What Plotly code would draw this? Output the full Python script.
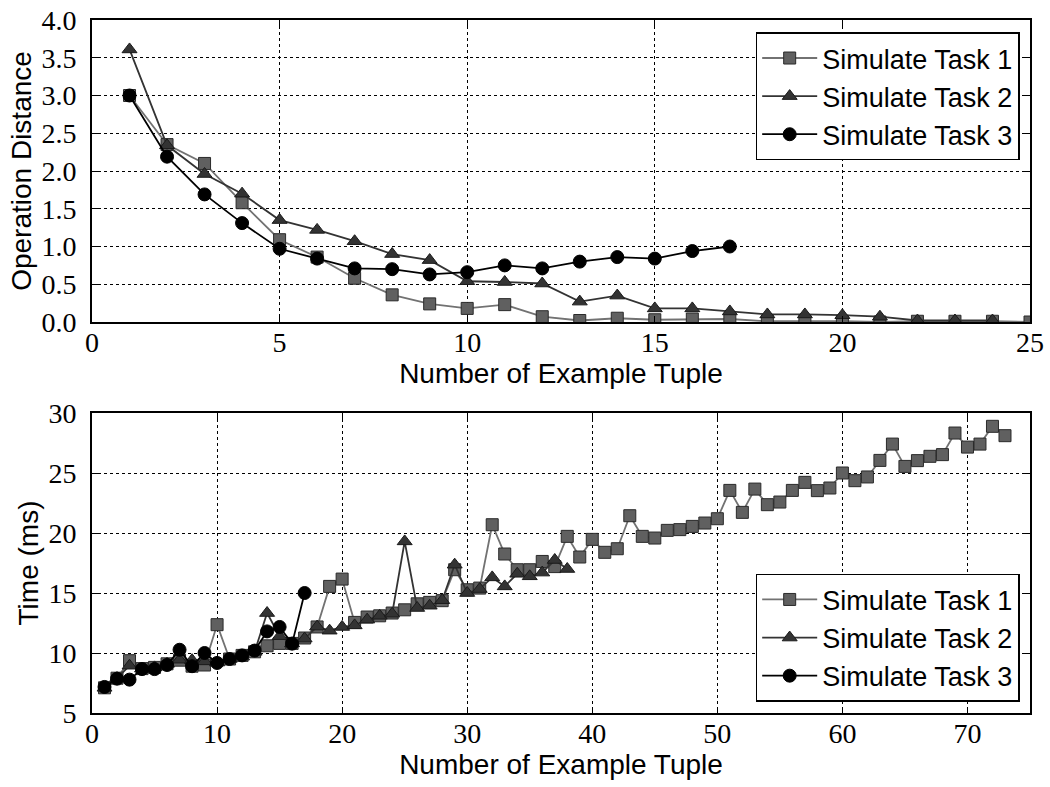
import plotly.graph_objects as go
from plotly.subplots import make_subplots

# ---------------- data: top panel (Operation Distance) ----------------
top_x1 = list(range(1, 26))
top_task1 = [3.0, 2.35, 2.10, 1.58, 1.09, 0.86, 0.58, 0.36, 0.24, 0.18, 0.23, 0.07,
             0.02, 0.05, 0.03, 0.04, 0.04, 0.01, 0.01, 0.01, 0.0, 0.01, 0.01, 0.01, 0.0]
top_x2 = list(range(1, 25))
top_task2 = [3.61, 2.34, 1.96, 1.70, 1.35, 1.22, 1.07, 0.90, 0.82, 0.54, 0.53, 0.51,
             0.27, 0.35, 0.18, 0.18, 0.14, 0.10, 0.10, 0.09, 0.07, 0.02, 0.02, 0.02]
top_x3 = list(range(1, 18))
top_task3 = [3.0, 2.19, 1.69, 1.31, 0.97, 0.84, 0.71, 0.70, 0.63, 0.66, 0.75, 0.71,
             0.80, 0.86, 0.84, 0.94, 1.0]

# ---------------- data: bottom panel (Time) ----------------
bot_x1 = list(range(1, 74))
bot_task1 = [7.1, 7.9, 9.36, 8.7, 8.8, 9.1, 9.4, 8.9, 9.0, 12.36,
             9.5, 9.8, 10.1, 10.6, 10.8, 10.8, 11.25, 12.17, 15.55, 16.16,
             12.55, 13.0, 13.1, 13.33, 13.6, 14.1, 14.22, 14.36, 16.94, 15.27,
             15.41, 20.69, 18.25, 16.94, 16.94, 17.63, 17.2, 19.72, 18.0, 19.47,
             18.39, 18.69, 21.44, 19.72, 19.58, 20.22, 20.28, 20.55, 20.83, 21.19,
             23.55, 21.72, 23.66, 22.36, 22.58, 23.55, 24.22, 23.53, 23.75, 25.0,
             24.36, 24.67, 26.05, 27.41, 25.55, 26.03, 26.39, 26.53, 28.33, 27.16,
             27.41, 28.89, 28.11]
bot_x2 = list(range(1, 39))
bot_task2 = [7.1, 7.9, 8.94, 8.7, 8.8, 9.1, 9.44, 9.4, 9.3, 9.2,
             9.5, 9.7, 10.1, 13.33, 11.4, 10.8, 11.2, 12.2, 11.86, 12.17,
             12.3, 12.78, 13.1, 13.27, 19.3, 13.75, 13.94, 14.4, 17.36, 15.0,
             15.33, 16.3, 15.55, 16.6, 16.39, 16.7, 17.75, 17.0]
bot_x3 = list(range(1, 18))
bot_task3 = [7.17, 7.86, 7.78, 8.66, 8.66, 9.0, 10.27, 8.9, 10.0, 9.17,
             9.5, 9.8, 10.2, 11.8, 12.17, 10.78, 15.0]

names = ["Simulate Task 1", "Simulate Task 2", "Simulate Task 3"]

styles = [
    dict(line=dict(color="#727272", width=1.8),
         marker=dict(symbol="square", size=12, color="#606060",
                     line=dict(color="#2a2a2a", width=1))),
    dict(line=dict(color="#333333", width=1.8),
         marker=dict(symbol="triangle-up", size=13, color="#333333",
                     line=dict(color="#1a1a1a", width=1))),
    dict(line=dict(color="#000000", width=1.8),
         marker=dict(symbol="circle", size=13, color="#000000",
                     line=dict(color="#000000", width=1))),
]

fig = make_subplots(rows=2, cols=1, vertical_spacing=0.0)

top_data = [(top_x1, top_task1), (top_x2, top_task2), (top_x3, top_task3)]
bot_data = [(bot_x1, bot_task1), (bot_x2, bot_task2), (bot_x3, bot_task3)]

for (xs, ys), nm, st in zip(top_data, names, styles):
    fig.add_trace(go.Scatter(x=xs, y=ys, mode="lines+markers", name=nm,
                             legend="legend", **st), row=1, col=1)
for (xs, ys), nm, st in zip(bot_data, names, styles):
    fig.add_trace(go.Scatter(x=xs, y=ys, mode="lines+markers", name=nm,
                             legend="legend2", **st), row=2, col=1)

tick_font = dict(family="Liberation Serif, DejaVu Serif, serif", size=28, color="black")
title_font = dict(family="Liberation Sans, Arial, sans-serif", size=28, color="black")
legend_font = dict(family="Liberation Sans, Arial, sans-serif", size=27, color="black")

axis_common = dict(showline=True, linecolor="black", linewidth=2, mirror="allticks",
                   ticks="inside", ticklen=6, tickwidth=1, tickcolor="black",
                   showgrid=True, gridcolor="black", gridwidth=1, griddash="dot",
                   zeroline=False, tickfont=tick_font, title_font=title_font,
                   automargin=False)

fig.update_xaxes(ticklabelstandoff=-6, **axis_common)
fig.update_yaxes(ticklabelstandoff=8, **axis_common)

fig.update_layout(
    width=1050, height=787,
    margin=dict(l=92, r=20, t=20, b=74),
    paper_bgcolor="white", plot_bgcolor="white",
    xaxis=dict(domain=[0, 1], range=[0, 25], tickvals=[0, 5, 10, 15, 20, 25],
               title=dict(text="Number of Example Tuple", standoff=0)),
    yaxis=dict(domain=[0.5642, 1.0], range=[0, 4.0],
               tickvals=[0, 0.5, 1.0, 1.5, 2.0, 2.5, 3.0, 3.5, 4.0], tickformat=".1f",
               title=dict(text="Operation Distance", standoff=2)),
    xaxis2=dict(domain=[0, 1], range=[0, 75], tickvals=[0, 10, 20, 30, 40, 50, 60, 70],
                title=dict(text="Number of Example Tuple", standoff=0)),
    yaxis2=dict(domain=[0, 0.4329], range=[5, 30], tickvals=[5, 10, 15, 20, 25, 30],
                title=dict(text="Time (ms)", standoff=2)),
    legend=dict(x=0.989, y=0.982, xanchor="right", yanchor="top",
                bordercolor="black", borderwidth=1.5, bgcolor="white",
                font=legend_font, itemwidth=55, tracegroupgap=0),
    legend2=dict(x=0.989, y=0.016, xanchor="right", yanchor="bottom",
                 bordercolor="black", borderwidth=1.5, bgcolor="white",
                 font=legend_font, itemwidth=55, tracegroupgap=0),
)

fig.write_html("out.html")
